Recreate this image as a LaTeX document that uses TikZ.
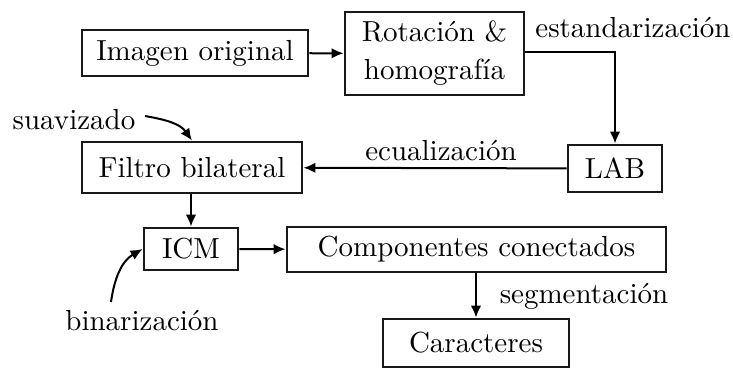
\documentclass[tikz,border=0pt]{standalone}
\usepackage{fontspec}
\newfontfamily\lmten{lmroman10-regular.otf}
\usetikzlibrary{arrows.meta,positioning}
\begin{document}
\begin{tikzpicture}[x=1pt,y=-1pt,
  every node/.style={font=\lmten\fontsize{29}{38}\selectfont},
  box/.style={draw=black!90,line width=2.8pt,inner sep=0pt,align=center},
  lbl/.style={inner sep=0pt},
  arr/.style={line width=2pt,-{Latex[length=12pt,width=10.5pt]}}]
\useasboundingbox (0,0) rectangle (733,368);
\node[box,minimum width=226pt,minimum height=46pt] (orig) at (195,53) {Imagen original};
\node[box,minimum width=179pt,minimum height=83pt] (rot) at (434.5,53.5) {Rotación \&\\homografía};
\node[box,minimum width=94pt,minimum height=47pt] (lab) at (615,168.5) {LAB};
\node[box,minimum width=220pt,minimum height=51pt] (filt) at (192,167.5) {Filtro bilateral};
\node[box,minimum width=94pt,minimum height=42pt] (icm) at (191,249) {ICM};
\node[box,minimum width=379pt,minimum height=45pt] (comp) at (476.5,249.5) {Componentes conectados};
\node[box,minimum width=186pt,minimum height=48pt] (car) at (476,343) {Caracteres};
\node[lbl] (est) at (633,28) {estandarización};
\node[lbl] (ecu) at (441,151) {ecualización};
\node[lbl] (suav) at (74,120) {suavizado};
\node[lbl] (bin) at (142,321) {binarización};
\node[lbl] (seg) at (584,296) {segmentación};
\coordinate (suavs) at (145,116);
\coordinate (bins) at (111,302);
\draw[arr] (orig) -- (rot);
\draw[arr] (rot.east |- 0,52) -| (lab.north);
\draw[arr] (lab) -- (filt);
\draw[arr] (icm.north |- filt.south) -- (icm.north);
\draw[arr] (icm) -- (comp);
\draw[arr] (car.north |- comp.south) -- (car.north);
\draw[arr] (suavs) to[out=-10,in=125] (filt.north);
\draw[arr] (bins) to[out=82,in=-150] (icm.west);
\end{tikzpicture}
\end{document}
